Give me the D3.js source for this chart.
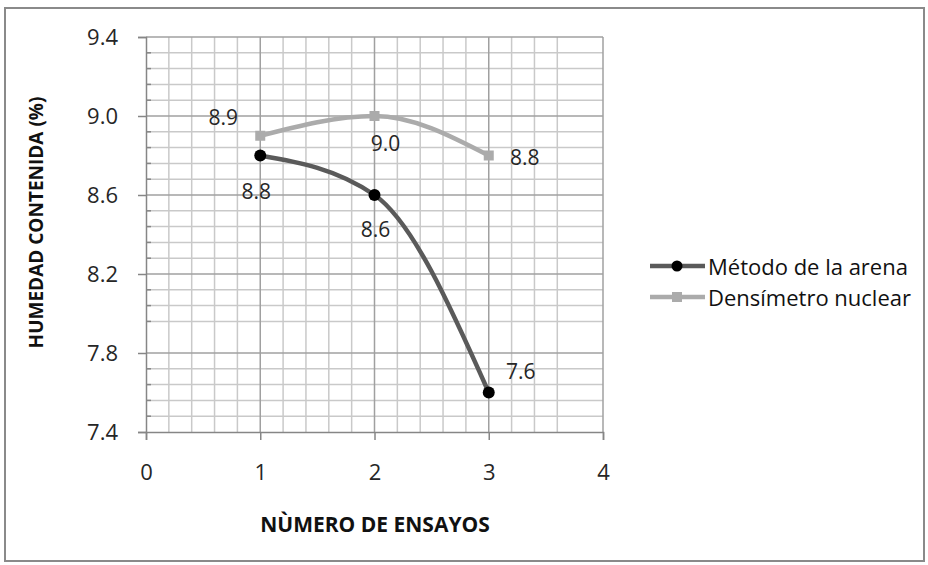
<!DOCTYPE html>
<html>
<head>
<meta charset="utf-8">
<script src="https://cdn.jsdelivr.net/npm/d3@7"></script>
<style>
  html, body { margin: 0; padding: 0; background: #fff; }
  svg { display: block; }
</style>
</head>
<body>
<svg id="chart" width="928" height="565"></svg>
<script>
// ---- data ----
const categories = [1, 2, 3];
const metodoArena = [8.8, 8.6, 7.6];
const densimetroNuclear = [8.9, 9.0, 8.8];
const seriesNames = ["Método de la arena", "Densímetro nuclear"];
const xTickValues = [0, 1, 2, 3, 4];
const yTickValues = [7.4, 7.8, 8.2, 8.6, 9.0, 9.4];
const yTickLabels = ["7.4", "7.8", "8.2", "8.6", "9.0", "9.4"];
const xTitle = "NÙMERO DE ENSAYOS";
const yTitle = "HUMEDAD CONTENIDA (%)";

// label offsets (position config, px) for each data label
const metodoLabelOffsets = [[-4, 35], [1, 34], [32, -22]];
const densLabelOffsets = [[-37, -19], [11, 27], [36, 1]];

// ---- layout ----
const svg = d3.select("#chart");
const x = d3.scaleLinear().domain([0, 4]).range([146, 603]);
const y = d3.scaleLinear().domain([7.4, 9.4]).range([432, 37]);

// outer border
svg.append("rect").attr("x", 5).attr("y", 8).attr("width", 919).attr("height", 553)
  .attr("fill", "#fff").attr("stroke", "#8a8a8a").attr("stroke-width", 2);

// minor gridlines (x every 0.2, y every 0.08), Excel skipped one of each
const xMinor = d3.range(1, 20).filter(i => i % 5 !== 0 && i !== 19).map(i => i * 0.2);
const yMinor = d3.range(1, 25).filter(i => i % 5 !== 0 && i !== 6).map(i => 7.4 + i * 0.08);
const grid = svg.append("g");
grid.selectAll("line.xm").data(xMinor).join("line")
  .attr("x1", d => x(d)).attr("x2", d => x(d)).attr("y1", y(7.4)).attr("y2", y(9.4))
  .attr("stroke", "#c9c9c9").attr("stroke-width", 1.5);
grid.selectAll("line.ym").data(yMinor).join("line")
  .attr("y1", d => y(d)).attr("y2", d => y(d)).attr("x1", x(0)).attr("x2", x(4))
  .attr("stroke", "#c9c9c9").attr("stroke-width", 1.5);
// major gridlines
grid.selectAll("line.xM").data(xTickValues.slice(1)).join("line")
  .attr("x1", d => x(d)).attr("x2", d => x(d)).attr("y1", y(7.4)).attr("y2", y(9.4))
  .attr("stroke", "#a0a0a0").attr("stroke-width", 1.5);
grid.selectAll("line.yM").data(yTickValues.slice(1)).join("line")
  .attr("y1", d => y(d)).attr("y2", d => y(d)).attr("x1", x(0)).attr("x2", x(4))
  .attr("stroke", "#a0a0a0").attr("stroke-width", 1.5);

// axes
const axisColor = "#868686";
const fontMain = "'Open Sans', 'Noto Sans', sans-serif";
const yAxis = svg.append("g").attr("transform", `translate(${x(0)},0)`)
  .call(d3.axisLeft(y).tickValues(yTickValues).tickFormat((d, i) => yTickLabels[i]).tickSize(8).tickPadding(20));
const xAxis = svg.append("g").attr("transform", `translate(0,${y(7.4)})`)
  .call(d3.axisBottom(x).tickValues(xTickValues).tickFormat(d3.format("d")).tickSize(8).tickPadding(24));
[yAxis, xAxis].forEach(a => {
  a.select(".domain").attr("stroke", axisColor).attr("stroke-width", 1.5);
  a.selectAll(".tick line").attr("stroke", axisColor).attr("stroke-width", 1.5);
  a.selectAll(".tick text").attr("fill", "#262626").style("font-family", fontMain).style("font-size", "22px");
});
// minor y tick marks inside
svg.append("g").selectAll("line").data(yMinor).join("line")
  .attr("x1", x(0)).attr("x2", x(0) + 5).attr("y1", d => y(d)).attr("y2", d => y(d))
  .attr("stroke", axisColor).attr("stroke-width", 1.5);

// axis titles
svg.append("text").attr("x", 375).attr("y", 524).attr("text-anchor", "middle")
  .attr("dominant-baseline", "central")
  .style("font-family", fontMain).style("font-size", "21px").style("font-weight", "bold")
  .attr("fill", "#111").text(xTitle);
svg.append("text").attr("transform", `translate(36,${(y(7.4) + y(9.4)) / 2 - 12}) rotate(-90)`)
  .attr("text-anchor", "middle").attr("dominant-baseline", "central")
  .style("font-family", fontMain).style("font-size", "19px").style("font-weight", "bold")
  .attr("fill", "#111").text(yTitle);

// series
const line = d3.line().x(d => x(d[0])).y(d => y(d[1])).curve(d3.curveMonotoneX);
const metodoPts = categories.map((c, i) => [c, metodoArena[i]]);
const densPts = categories.map((c, i) => [c, densimetroNuclear[i]]);
const colMetodo = "#5a5a5a", colDens = "#ababab";

svg.append("path").datum(densPts).attr("d", line).attr("fill", "none")
  .attr("stroke", colDens).attr("stroke-width", 4.5);
svg.append("path").datum(metodoPts).attr("d", line).attr("fill", "none")
  .attr("stroke", colMetodo).attr("stroke-width", 4.5);

svg.append("g").selectAll("rect").data(densPts).join("rect")
  .attr("x", d => x(d[0]) - 5).attr("y", d => y(d[1]) - 5).attr("width", 10).attr("height", 10)
  .attr("fill", colDens);
svg.append("g").selectAll("circle").data(metodoPts).join("circle")
  .attr("cx", d => x(d[0])).attr("cy", d => y(d[1])).attr("r", 6).attr("fill", "#000");

// data labels
function addLabels(pts, offs) {
  svg.append("g").selectAll("text").data(pts).join("text")
    .attr("x", (d, i) => x(d[0]) + offs[i][0]).attr("y", (d, i) => y(d[1]) + offs[i][1])
    .attr("text-anchor", "middle").attr("dominant-baseline", "central")
    .style("font-family", fontMain).style("font-size", "21px").attr("fill", "#262626")
    .text(d => d3.format(".1f")(d[1]));
}
addLabels(densPts, densLabelOffsets);
addLabels(metodoPts, metodoLabelOffsets);

// legend
const legend = svg.append("g");
const legendRows = [
  { name: seriesNames[0], color: colMetodo, marker: "circle", y: 266 },
  { name: seriesNames[1], color: colDens, marker: "rect", y: 297 }
];
legendRows.forEach(r => {
  legend.append("line").attr("x1", 650).attr("x2", 705).attr("y1", r.y).attr("y2", r.y)
    .attr("stroke", r.color).attr("stroke-width", 4.5);
  if (r.marker === "circle") {
    legend.append("circle").attr("cx", 677).attr("cy", r.y).attr("r", 5.5).attr("fill", "#000");
  } else {
    legend.append("rect").attr("x", 672).attr("y", r.y - 5).attr("width", 10).attr("height", 10).attr("fill", r.color);
  }
  legend.append("text").attr("x", 708).attr("y", r.y).attr("dominant-baseline", "central")
    .style("font-family", fontMain).style("font-size", "22px").attr("fill", "#111").text(r.name);
});
</script>
</body>
</html>
